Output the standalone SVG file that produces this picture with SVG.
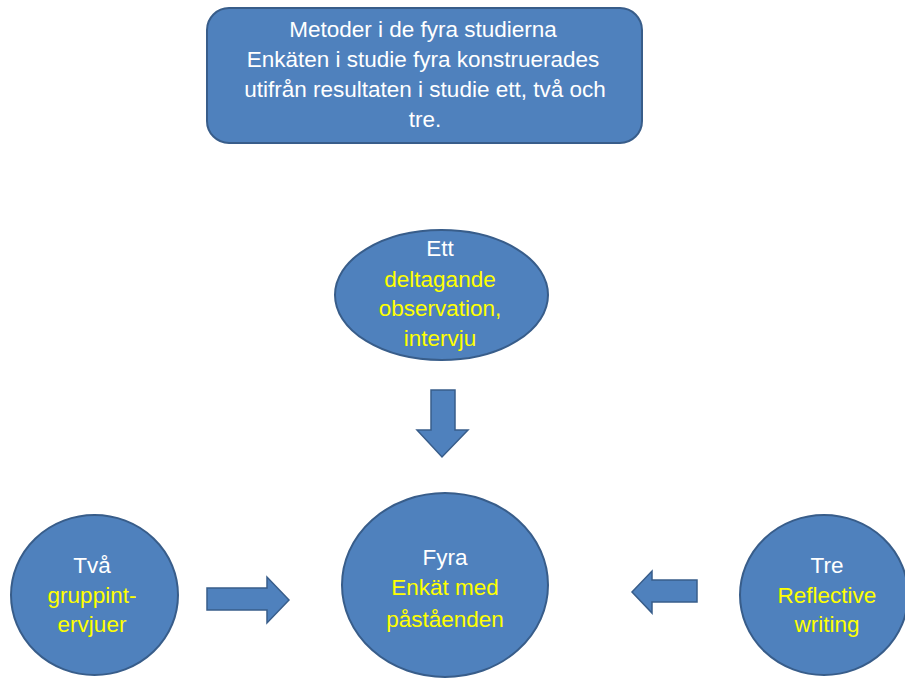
<svg xmlns="http://www.w3.org/2000/svg" width="905" height="679" viewBox="0 0 905 679">
<style>
.shape{fill:#4F81BD;stroke:#385D8A;stroke-width:2}
.arrow{fill:#4F81BD;stroke:#385D8A;stroke-width:1.5}
text{font-family:"Liberation Sans",Arial,sans-serif;font-size:22.5px;text-anchor:middle}
.w{fill:#FFFFFF}
.y{fill:#FFFF00}
</style>
<rect width="905" height="679" fill="#FFFFFF"/>
<g id="header">
<rect class="shape" x="207" y="8" width="435" height="135" rx="22" ry="22"/>
<text class="w" x="423" y="37">Metoder i de fyra studierna</text>
<text class="w" x="423" y="67">Enkäten i studie fyra konstruerades</text>
<text class="w" x="425" y="97">utifrån resultaten i studie ett, två och</text>
<text class="w" x="425" y="127">tre.</text>
</g>
<g id="ett">
<ellipse class="shape" cx="441.5" cy="295" rx="106.5" ry="65"/>
<text class="w" x="440" y="256">Ett</text>
<text class="y" x="440" y="287">deltagande</text>
<text class="y" x="440" y="316">observation,</text>
<text class="y" x="440" y="346">intervju</text>
</g>
<g id="tva">
<ellipse class="shape" cx="94.5" cy="595" rx="83.5" ry="80"/>
<text class="w" x="92" y="573">Två</text>
<text class="y" x="92" y="603">gruppint-</text>
<text class="y" x="92" y="632">ervjuer</text>
</g>
<g id="fyra">
<ellipse class="shape" cx="445" cy="585" rx="103" ry="92"/>
<text class="w" x="445" y="565">Fyra</text>
<text class="y" x="445" y="595">Enkät med</text>
<text class="y" x="445" y="627">påståenden</text>
</g>
<g id="tre">
<ellipse class="shape" cx="824" cy="595" rx="84" ry="80"/>
<text class="w" x="827" y="573">Tre</text>
<text class="y" x="827" y="603">Reflective</text>
<text class="y" x="827" y="632">writing</text>
</g>
<g id="connectors">
<polygon class="arrow" points="431,390 455,390 455,430 468,430 442,457 417,430 431,430"/>
<polygon class="arrow" points="207,588 267,588 267,577 289,600 267,623 267,610 207,610"/>
<polygon class="arrow" points="697,580 652,580 652,571 632,592 652,613 652,602 697,602"/>
</g>
</svg>
